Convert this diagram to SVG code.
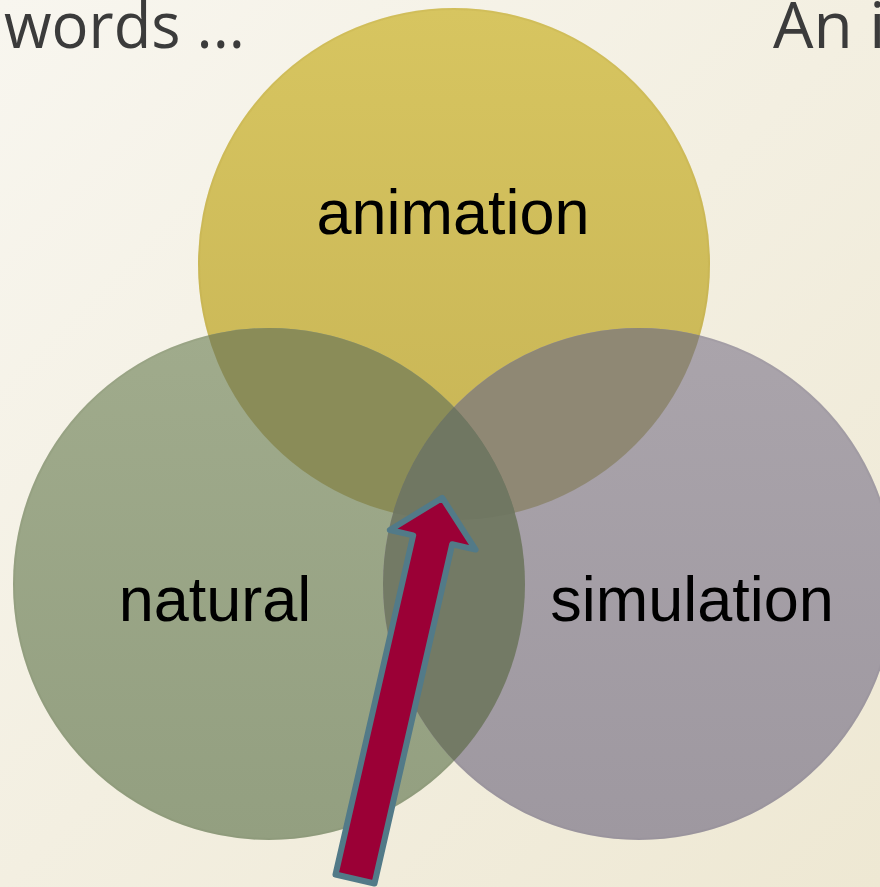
<svg xmlns="http://www.w3.org/2000/svg" width="880" height="887" viewBox="0 0 880 887">
  <defs>
    <linearGradient id="bg" x1="0" y1="0" x2="1" y2="1">
      <stop offset="0" stop-color="#f8f6ef"/>
      <stop offset="1" stop-color="#eee8d3"/>
    </linearGradient>
    <linearGradient id="gTop" x1="0" y1="0" x2="0" y2="1">
      <stop offset="0" stop-color="#d7c560"/>
      <stop offset="1" stop-color="#c7b455"/>
    </linearGradient>
    <linearGradient id="gLeft" x1="0" y1="0" x2="0" y2="1">
      <stop offset="0" stop-color="#a0ab8c"/>
      <stop offset="1" stop-color="#939f80"/>
    </linearGradient>
    <linearGradient id="gRight" x1="0" y1="0" x2="0" y2="1">
      <stop offset="0" stop-color="#aaa4ab"/>
      <stop offset="1" stop-color="#9e98a0"/>
    </linearGradient>
    <clipPath id="cLeft"><circle cx="269" cy="584" r="256"/></clipPath>
    <clipPath id="cRight"><circle cx="639" cy="584" r="256"/></clipPath>
    <style>
      .lbl { font-family: "Liberation Sans", Arial, sans-serif; font-size: 63px; fill: #000; text-anchor: middle; }
      .hdr { font-family: "Open Sans", "DejaVu Sans", sans-serif; font-size: 64px; fill: #3b3b3b; }
      .rim { fill: none; stroke-opacity: 0.18; stroke-width: 2; }
      .arrow { fill: #9b0036; stroke: #527a88; stroke-width: 6; stroke-linejoin: round; }
    </style>
  </defs>

  <rect width="880" height="887" fill="url(#bg)"/>

  <text class="hdr" x="4" y="48" textLength="241" lengthAdjust="spacingAndGlyphs">words ...</text>
  <text class="hdr" x="773" y="48">An i</text>

  <g id="node-animation">
    <circle cx="454" cy="264" r="256" fill="url(#gTop)"/>
    <circle class="rim" cx="454" cy="264" r="255" stroke="#b5a240"/>
  </g>
  <g id="node-natural">
    <circle cx="269" cy="584" r="256" fill="url(#gLeft)"/>
    <circle class="rim" cx="269" cy="584" r="255" stroke="#7f8a6c"/>
  </g>
  <g id="node-simulation">
    <circle cx="639" cy="584" r="256" fill="url(#gRight)"/>
    <circle class="rim" cx="639" cy="584" r="255" stroke="#8a8490"/>
  </g>

  <g id="overlaps">
    <circle cx="454" cy="264" r="256" fill="#8a8c58" clip-path="url(#cLeft)"/>
    <circle cx="454" cy="264" r="256" fill="#8f8874" clip-path="url(#cRight)"/>
    <circle cx="269" cy="584" r="256" fill="#737a65" clip-path="url(#cRight)"/>
    <g clip-path="url(#cRight)">
      <circle cx="454" cy="264" r="256" fill="#707762" clip-path="url(#cLeft)"/>
    </g>
  </g>

  <g id="labels">
    <text class="lbl" x="453" y="234">animation</text>
    <text class="lbl" x="215" y="621">natural</text>
    <text class="lbl" x="692" y="621">simulation</text>
  </g>

  <g id="connectors">
    <polygon class="arrow" transform="translate(355,879) rotate(12.9)" points="-20,0 -20,-348 -44,-348 0,-391 44,-348 20,-348 20,0"/>
  </g>
</svg>
